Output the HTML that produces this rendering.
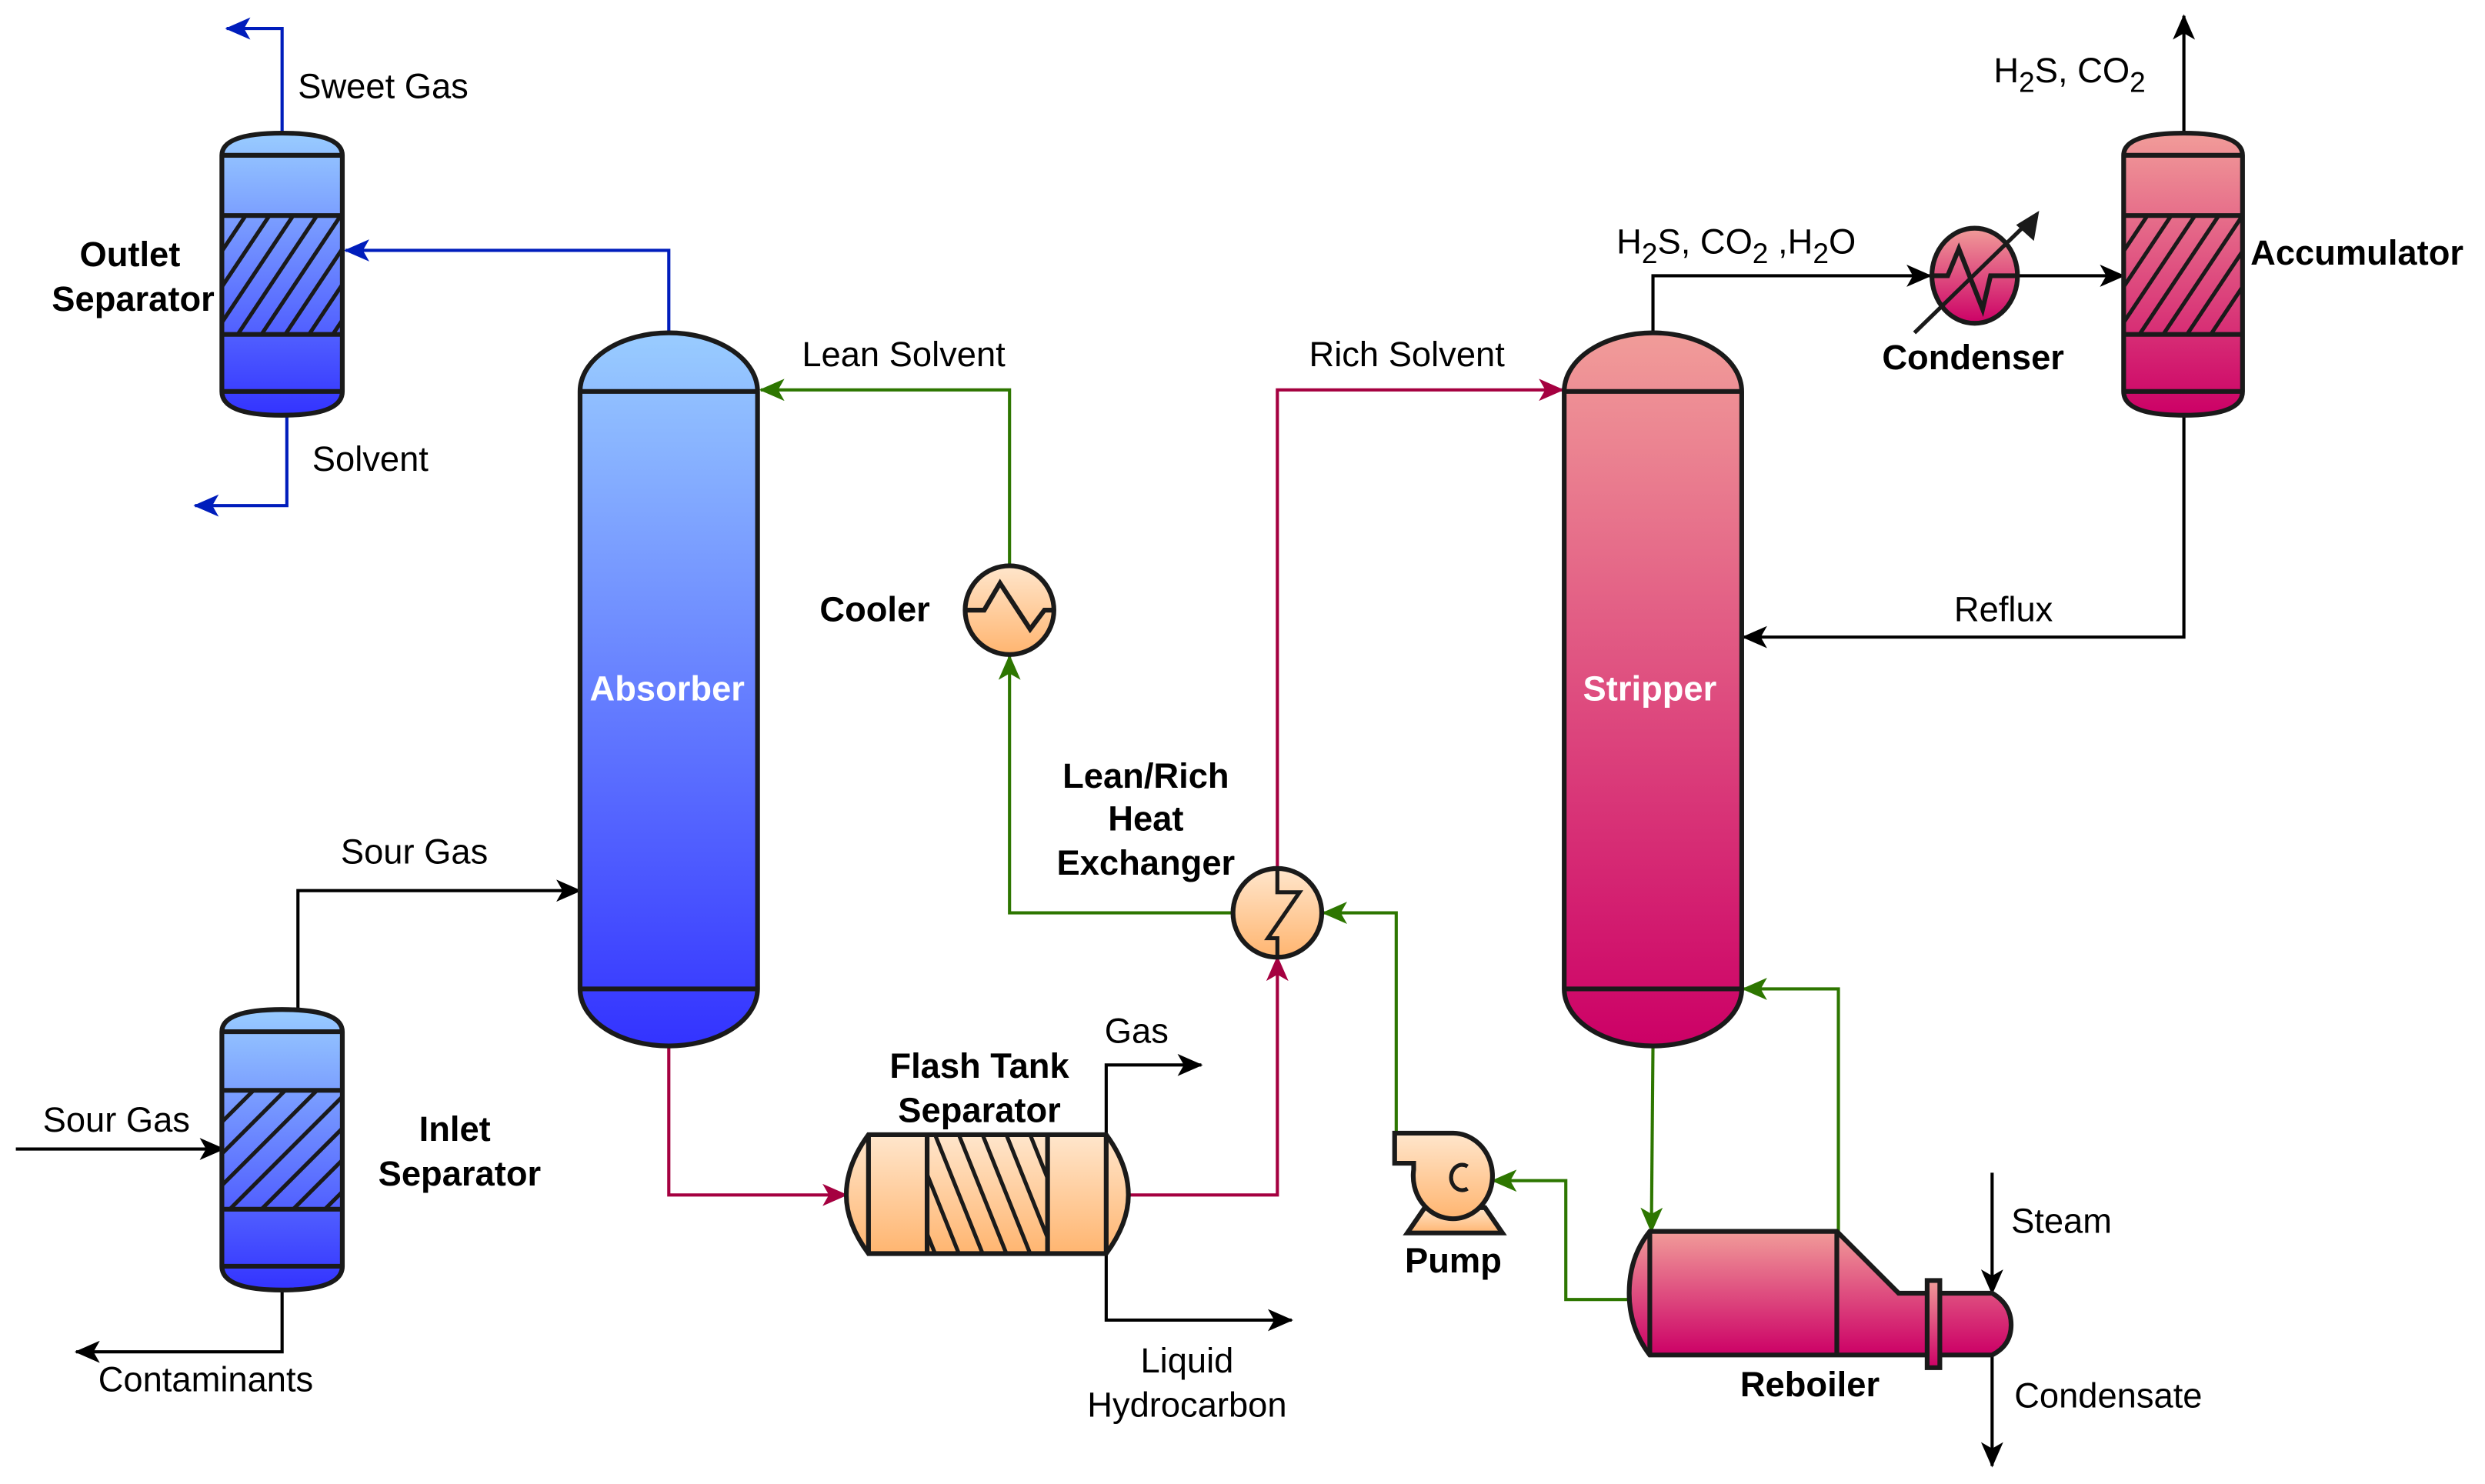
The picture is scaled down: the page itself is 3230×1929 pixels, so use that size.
<!DOCTYPE html>
<html><head><meta charset="utf-8"><style>
html,body{margin:0;padding:0;background:#fff}
svg{display:block}
text{font-family:"Liberation Sans",Arial,sans-serif;font-size:22px;fill:#000}
.b{font-weight:bold}
.w{fill:#fff;font-weight:bold}
</style></head><body>
<svg width="3230" height="1929" viewBox="0 0 1568 936.4" preserveAspectRatio="none" xmlns="http://www.w3.org/2000/svg">
<defs>
<linearGradient id="gb" x1="0" y1="0" x2="0" y2="1"><stop offset="0" stop-color="#99ccff"/><stop offset="1" stop-color="#3333ff"/></linearGradient>
<linearGradient id="gr" x1="0" y1="0" x2="0" y2="1"><stop offset="0" stop-color="#f19c99"/><stop offset="1" stop-color="#cc0066"/></linearGradient>
<linearGradient id="go" x1="0" y1="0" x2="0" y2="1"><stop offset="0" stop-color="#ffe6cc"/><stop offset="1" stop-color="#ffb570"/></linearGradient>
<marker id="ak" markerWidth="16" markerHeight="14" refX="15" refY="7" orient="auto" markerUnits="userSpaceOnUse"><path d="M0,0 L16,7 L0,14 L4,7 Z" fill="#000"/></marker>
<marker id="abl" markerWidth="16" markerHeight="14" refX="15" refY="7" orient="auto" markerUnits="userSpaceOnUse"><path d="M0,0 L16,7 L0,14 L4,7 Z" fill="#001dbc"/></marker>
<marker id="ag" markerWidth="16" markerHeight="14" refX="15" refY="7" orient="auto" markerUnits="userSpaceOnUse"><path d="M0,0 L16,7 L0,14 L4,7 Z" fill="#2d7600"/></marker>
<marker id="ar" markerWidth="16" markerHeight="14" refX="15" refY="7" orient="auto" markerUnits="userSpaceOnUse"><path d="M0,0 L16,7 L0,14 L4,7 Z" fill="#a50040"/></marker>
<clipPath id="c1"><rect x="140" y="136" width="76" height="75"/></clipPath>
<clipPath id="c2"><rect x="140" y="688" width="76" height="75"/></clipPath>
<clipPath id="c3"><rect x="1340" y="136" width="75" height="75"/></clipPath>
<clipPath id="c4"><rect x="585" y="716" width="76" height="75"/></clipPath>
</defs>

<g fill="none" stroke-width="2">
<polyline points="178,84 178,18 143,18" stroke="#001dbc" marker-end="url(#abl)"/>
<polyline points="181,262 181,319 123,319" stroke="#001dbc" marker-end="url(#abl)"/>
<polyline points="422,210 422,158 218,158" stroke="#001dbc" marker-end="url(#abl)"/>
<polyline points="637,357 637,246 480,246" stroke="#2d7600" marker-end="url(#ag)"/>
<polyline points="778,576 637,576 637,414" stroke="#2d7600" marker-end="url(#ag)"/>
<polyline points="881,715 881,576 835,576" stroke="#2d7600" marker-end="url(#ag)"/>
<polyline points="1030,820 988,820 988,745 942,745" stroke="#2d7600" marker-end="url(#ag)"/>
<polyline points="1043,660 1042,777" stroke="#2d7600" marker-end="url(#ag)"/>
<polyline points="1160,777 1160,624 1100,624" stroke="#2d7600" marker-end="url(#ag)"/>
<polyline points="422,660 422,754 534,754" stroke="#a50040" marker-end="url(#ar)"/>
<polyline points="712,754 806,754 806,604" stroke="#a50040" marker-end="url(#ar)"/>
<polyline points="806,547 806,246 986,246" stroke="#a50040" marker-end="url(#ar)"/>
<polyline points="10,725 141,725" stroke="#000" marker-end="url(#ak)"/>
<polyline points="188,637 188,562 366,562" stroke="#000" marker-end="url(#ak)"/>
<polyline points="178,814 178,853 48,853" stroke="#000" marker-end="url(#ak)"/>
<polyline points="698,716 698,672 758,672" stroke="#000" marker-end="url(#ak)"/>
<polyline points="698,791 698,833 815,833" stroke="#000" marker-end="url(#ak)"/>
<polyline points="1043,210 1043,174 1218,174" stroke="#000" marker-end="url(#ak)"/>
<polyline points="1274,174 1340,174" stroke="#000" marker-end="url(#ak)"/>
<polyline points="1378,84 1378,10" stroke="#000" marker-end="url(#ak)"/>
<polyline points="1378,262 1378,402 1100,402" stroke="#000" marker-end="url(#ak)"/>
<polyline points="1257,740 1257,816" stroke="#000" marker-end="url(#ak)"/>
<polyline points="1257,855 1257,925" stroke="#000" marker-end="url(#ak)"/>
</g>

<g stroke="#1a1a1a" stroke-width="3">
<path d="M140,98 Q140,84 178,84 Q216,84 216,98 L216,247 Q216,262 178,262 Q140,262 140,247 Z" fill="url(#gb)"/>
<line x1="140" y1="98" x2="216" y2="98"/><line x1="140" y1="136" x2="216" y2="136"/><line x1="140" y1="211" x2="216" y2="211"/><line x1="140" y1="247" x2="216" y2="247"/>
<g clip-path="url(#c1)" stroke-width="2.5"><path d="M120,211 L170,136 M135,211 L185,136 M150,211 L200,136 M165,211 L215,136 M180,211 L230,136 M195,211 L245,136 M105,211 L155,136 M210,211 L260,136"/></g>

<path d="M140,651 Q140,637 178,637 Q216,637 216,651 L216,799 Q216,814 178,814 Q140,814 140,799 Z" fill="url(#gb)"/>
<line x1="140" y1="651" x2="216" y2="651"/><line x1="140" y1="688" x2="216" y2="688"/><line x1="140" y1="763" x2="216" y2="763"/><line x1="140" y1="799" x2="216" y2="799"/>
<g clip-path="url(#c2)" stroke-width="2.5"><path d="M125,763 L200,688 M145,763 L220,688 M165,763 L240,688 M185,763 L260,688 M205,763 L280,688 M105,763 L180,688 M85,763 L160,688"/></g>

<path d="M1340,98 Q1340,84 1378,84 Q1415,84 1415,98 L1415,247 Q1415,262 1378,262 Q1340,262 1340,247 Z" fill="url(#gr)"/>
<line x1="1340" y1="98" x2="1415" y2="98"/><line x1="1340" y1="136" x2="1415" y2="136"/><line x1="1340" y1="211" x2="1415" y2="211"/><line x1="1340" y1="247" x2="1415" y2="247"/>
<g clip-path="url(#c3)" stroke-width="2.5"><path d="M1320,211 L1370,136 M1335,211 L1385,136 M1350,211 L1400,136 M1365,211 L1415,136 M1380,211 L1430,136 M1395,211 L1445,136 M1305,211 L1355,136"/></g>

<path d="M366,247 A56,37 0 0 1 478,247 L478,624 A56,36 0 0 1 366,624 Z" fill="url(#gb)"/>
<line x1="366" y1="247" x2="478" y2="247"/><line x1="366" y1="624" x2="478" y2="624"/>
<path d="M987,247 A56,37 0 0 1 1099,247 L1099,624 A56,36 0 0 1 987,624 Z" fill="url(#gr)"/>
<line x1="987" y1="247" x2="1099" y2="247"/><line x1="987" y1="624" x2="1099" y2="624"/>

<path d="M548,716 L698,716 Q712,735 712,754 Q712,772 698,791 L548,791 Q534,772 534,754 Q534,735 548,716 Z" fill="url(#go)"/>
<line x1="548" y1="716" x2="548" y2="791"/><line x1="585" y1="716" x2="585" y2="791"/><line x1="661" y1="716" x2="661" y2="791"/><line x1="698" y1="716" x2="698" y2="791"/>
<g clip-path="url(#c4)" stroke-width="2.5"><path d="M560,716 L590,791 M575,716 L605,791 M590,716 L620,791 M605,716 L635,791 M620,716 L650,791 M635,716 L665,791 M650,716 L680,791 M545,716 L575,791"/></g>

<circle cx="637" cy="385" r="28" fill="url(#go)"/>
<polyline points="609,385 621,385 631,368 650,397 659,385 665,385" fill="none"/>
<circle cx="806" cy="576" r="28" fill="url(#go)"/>
<polyline points="806,548 806,563 820,563 800,592 806,592 806,604" fill="none" stroke-width="2.5"/>

<ellipse cx="1246" cy="174" rx="27" ry="30" fill="url(#gr)"/>
<polyline points="1219,174 1229,174 1236,157 1251,195 1256,174 1274,174" fill="none"/>
<line x1="1208" y1="210" x2="1280" y2="140" stroke-width="2.5"/>
<path d="M1286,134 L1283,151 L1273,142 Z" fill="#1a1a1a" stroke-width="1"/>

<path d="M888,778 L899,762 L937,762 L948,778 Z" fill="url(#go)"/>
<path d="M880,715 L917,715 A25,27 0 1 1 892,738 L892,734 L880,734 Z" fill="url(#go)"/>
<path d="M926,736 A7,8 0 1 0 926,750" fill="none" stroke-width="2.5"/>

<path d="M1041,777 L1159,777 L1198,816 L1257,816 Q1269,823 1269,836 Q1269,849 1257,855 L1041,855 Q1028,838 1028,816 Q1028,793 1041,777 Z" fill="url(#gr)"/>
<line x1="1041" y1="777" x2="1041" y2="855"/><line x1="1159" y1="777" x2="1159" y2="855"/>
<rect x="1216" y="808" width="8" height="55" fill="url(#gr)"/>
</g>

<text x="188" y="62">Sweet Gas</text>
<text x="197" y="297">Solvent</text>
<text class="b" x="82" y="168" text-anchor="middle">Outlet</text>
<text class="b" x="84" y="196" text-anchor="middle">Separator</text>
<text x="506" y="231">Lean Solvent</text>
<text x="826" y="231">Rich Solvent</text>
<text class="w" x="421" y="442" text-anchor="middle">Absorber</text>
<text class="w" x="1041" y="442" text-anchor="middle">Stripper</text>
<text class="b" x="552" y="392" text-anchor="middle">Cooler</text>
<text class="b" x="723" y="497" text-anchor="middle">Lean/Rich</text>
<text class="b" x="723" y="524" text-anchor="middle">Heat</text>
<text class="b" x="723" y="552" text-anchor="middle">Exchanger</text>
<text x="215" y="545">Sour Gas</text>
<text x="27" y="714">Sour Gas</text>
<text class="b" x="287" y="720" text-anchor="middle">Inlet</text>
<text class="b" x="290" y="748" text-anchor="middle">Separator</text>
<text x="62" y="878">Contaminants</text>
<text class="b" x="618" y="680" text-anchor="middle">Flash Tank</text>
<text class="b" x="618" y="708" text-anchor="middle">Separator</text>
<text x="697" y="658">Gas</text>
<text x="749" y="866" text-anchor="middle">Liquid</text>
<text x="749" y="894" text-anchor="middle">Hydrocarbon</text>
<text class="b" x="917" y="803" text-anchor="middle">Pump</text>
<text class="b" x="1142" y="881" text-anchor="middle">Reboiler</text>
<text x="1269" y="778">Steam</text>
<text x="1271" y="888">Condensate</text>
<text x="1233" y="392">Reflux</text>
<text class="b" x="1245" y="233" text-anchor="middle">Condenser</text>
<text class="b" x="1420" y="167">Accumulator</text>
<text x="1020" y="160">H<tspan font-size="18" dy="6">2</tspan><tspan dy="-6">S, CO</tspan><tspan font-size="18" dy="6">2</tspan><tspan dy="-6"> ,H</tspan><tspan font-size="18" dy="6">2</tspan><tspan dy="-6">O</tspan></text>
<text x="1258" y="52">H<tspan font-size="18" dy="6">2</tspan><tspan dy="-6">S, CO</tspan><tspan font-size="18" dy="6">2</tspan></text>
</svg>
</body></html>
